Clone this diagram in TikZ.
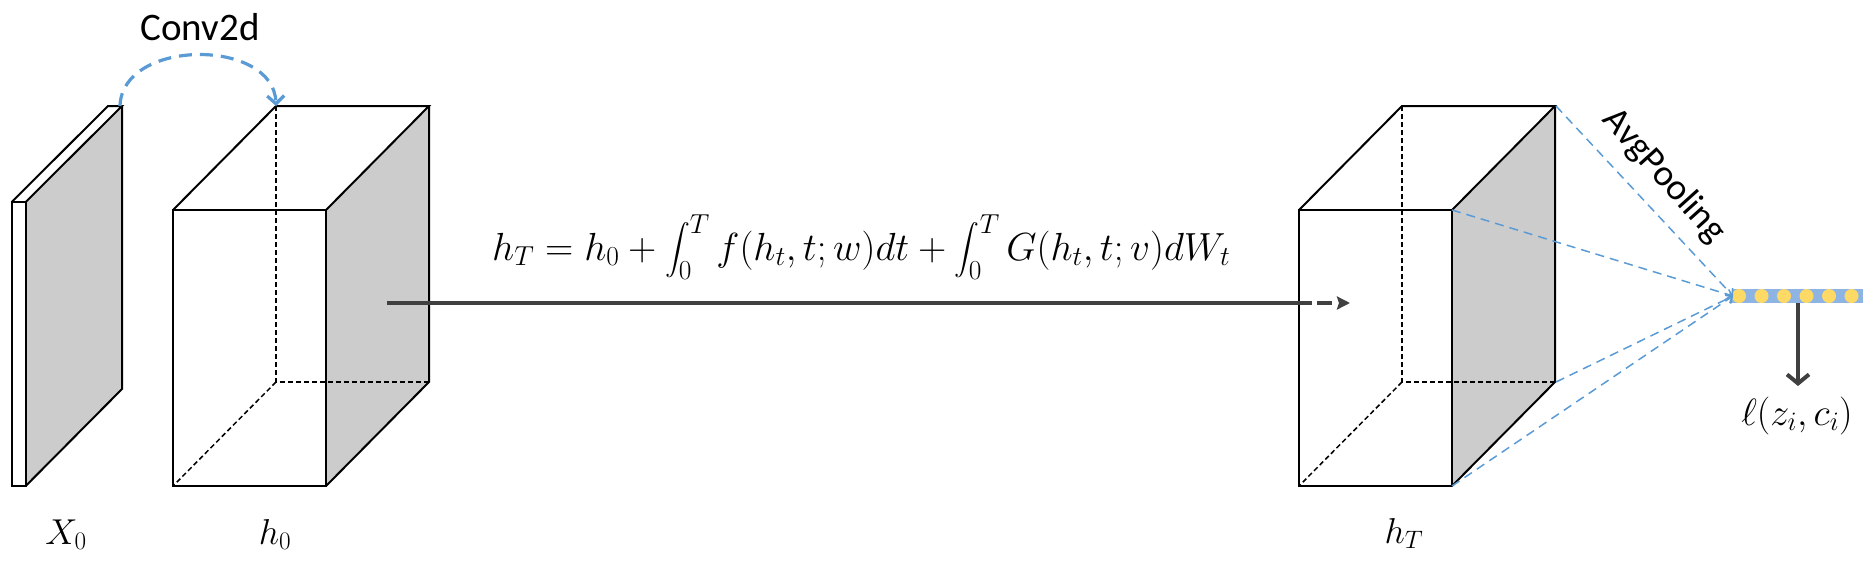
\RequirePackage{fix-cm}
\documentclass[tikz,border=0pt]{standalone}
\usepackage{exscale}
\usepackage{fontspec}
\setmainfont{Carlito}
\usetikzlibrary{arrows.meta}
\definecolor{cubegray}{RGB}{204,204,204}
\definecolor{convblue}{RGB}{91,155,213}
\definecolor{arrowgray}{RGB}{64,64,64}
\definecolor{barblue}{RGB}{141,180,226}
\definecolor{dotyellow}{RGB}{255,217,102}
\tikzset{
  edge/.style={draw=black,line width=2pt,line join=miter},
  hidden/.style={draw=black,line width=1.5pt,dash pattern=on 5pt off 3pt},
  mathlbl/.style={font=\fontsize{36}{43}\selectfont,inner sep=0pt},
  pool/.style={draw=convblue,line width=1.5pt,dash pattern=on 9pt off 6pt,-{Straight Barb[length=5pt,width=10pt]}},
  featbox/.pic={
    \fill[cubegray] (153,0) -- (256,-104) -- (256,172) -- (153,276) -- cycle;
    \draw[hidden] (103,-104) -- (103,172) -- (256,172);
    \draw[hidden] (103,172) -- (0,276);
    \draw[edge] (0,0) rectangle (153,276);
    \draw[edge] (0,0) -- (103,-104) -- (256,-104) -- (153,0);
    \draw[edge] (256,-104) -- (256,172) -- (153,276);
  }
}
\begin{document}
\begin{tikzpicture}[x=1pt,y=-1pt]
\useasboundingbox (0,0) rectangle (1875,571);

% X0 slab
\fill[cubegray] (25.7,202) -- (122,106) -- (122,389) -- (25.7,486) -- cycle;
\draw[edge] (11.7,202) rectangle (25.7,486);
\draw[edge] (11.7,202) -- (108,106) -- (122,106) -- (25.7,202);
\draw[edge] (122,106) -- (122,389) -- (25.7,486);

% cubes
\pic at (173,210) {featbox};
\pic at (1299,210) {featbox};

% coordinates
\coordinate (x0top) at (120,106);
\coordinate (h0corner) at (276,106);
\coordinate (arrS) at (387,303);
\coordinate (arrM) at (1312,303);
\coordinate (arrD) at (1317,303);
\coordinate (arrE) at (1350,303);
\coordinate (tbr) at (1556,106);
\coordinate (ftr) at (1452,210);
\coordinate (bbr) at (1556,382);
\coordinate (fbr) at (1452,486);
\coordinate (vecL) at (1733,296);
\coordinate (vecD) at (1798,303);
\coordinate (lossT) at (1798,386);

% Conv2d arc
\draw[convblue,line width=3.2pt,dash pattern=on 13pt off 8pt,
      -{Straight Barb[length=8pt,width=17pt]}]
  (x0top) .. controls (122,38) and (274,38) .. (h0corner);
\node[font=\fontsize{39}{47}\selectfont,inner sep=0pt,anchor=base] (conv) at (200,40) {Conv2d};

% main arrow
\draw[arrowgray,line width=4pt] (arrS) -- (arrM);
\draw[arrowgray,line width=4pt,dash pattern=on 15pt off 10pt,
      -{Stealth[length=13pt,width=13pt,inset=2pt]}] (arrD) -- (arrE);

% equation
\node[anchor=base west,inner sep=0pt,font=\fontsize{39.2}{47}\selectfont] (eq) at (492,260)
  {$\displaystyle h_T = h_0+\int_0^T f(h_t,t;w)dt+\int_0^T G(h_t,t;v)dW_t$};

% labels
\node[mathlbl,anchor=base] (lx0) at (66,544) {$X_0$};
\node[mathlbl,anchor=base] (lh0) at (275,544) {$h_0$};
\node[mathlbl,anchor=base] (lhT) at (1404,543) {$h_T$};

% vector
\node[fill=barblue,minimum width=131pt,minimum height=14pt,inner sep=0pt,anchor=west] (vec) at (1732,296) {};
\foreach \i in {0,...,5} {
  \fill[dotyellow] (1739+22.5*\i,296) circle (7pt);
}

% pooling lines
\draw[pool] (tbr) -- (vecL);
\draw[pool] (ftr) -- (vecL);
\draw[pool] (bbr) -- (vecL);
\draw[pool] (fbr) -- (vecL);
\node[font=\fontsize{37}{44}\selectfont,rotate=-48,inner sep=0pt] (avg) at (1664,176) {AvgPooling};

% loss arrow
\draw[arrowgray,line width=4pt,-{Straight Barb[length=9pt,width=22pt]}] (vecD) -- (lossT);
\node[font=\fontsize{38}{46}\selectfont,inner sep=0pt,anchor=base] (loss) at (1797,425) {$\ell(z_i,c_i)$};
\end{tikzpicture}
\end{document}
